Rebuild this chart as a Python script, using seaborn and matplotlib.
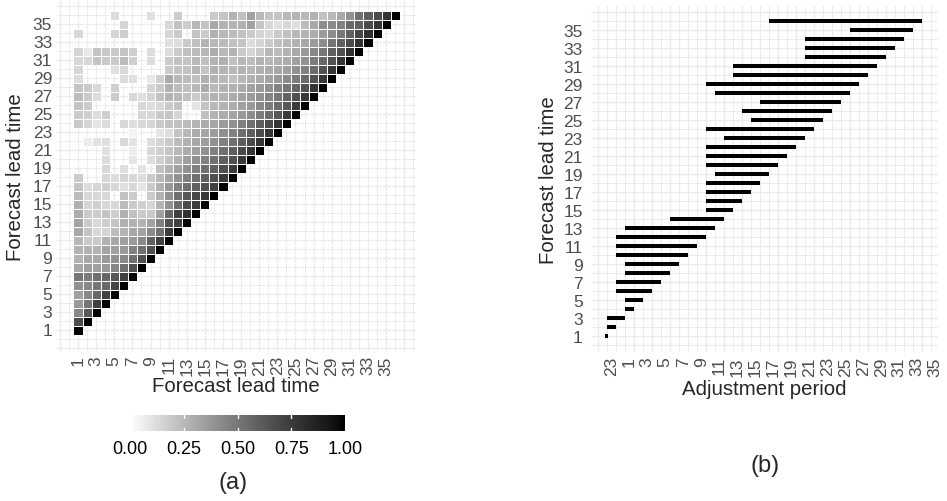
import numpy as np
import pandas as pd
import matplotlib
matplotlib.use("Agg")
import matplotlib.pyplot as plt
from matplotlib.colors import ListedColormap
import seaborn as sns

N = None

# ---------------- data: panel (a) ----------------
lead_times = list(range(1, 37))
# row L holds the values for (lead L, lead 1..L); None = no tile
corr_rows = [
    [1.0],
    [0.67, 1.0],
    [0.43, 0.63, 1.0],
    [0.37, 0.50, 0.73, 1.0],
    [0.34, 0.43, 0.56, 0.73, 1.0],
    [0.40, 0.43, 0.50, 0.56, 0.70, 1.0],
    [0.50, 0.48, 0.53, 0.56, 0.63, 0.73, 1.0],
    [0.31, 0.34, 0.34, 0.37, 0.43, 0.53, 0.66, 1.0],
    [0.27, 0.31, 0.31, 0.37, 0.40, 0.43, 0.53, 0.66, 1.0],
    [0.27, 0.27, 0.27, 0.33, 0.34, 0.37, 0.46, 0.53, 0.66, 1.0],
    [0.25, 0.19, 0.19, 0.28, 0.31, 0.34, 0.37, 0.42, 0.59, 0.73, 1.0],
    [0.31, 0.21, 0.14, 0.15, 0.24, 0.27, 0.31, 0.33, 0.42, 0.53, 0.75, 1.0],
    [0.33, 0.19, 0.14, 0.17, 0.21, 0.28, 0.28, 0.27, 0.33, 0.46, 0.66, 0.73, 1.0],
    [0.30, 0.19, 0.18, 0.21, 0.17, 0.28, 0.22, 0.19, 0.19, 0.34, 0.56, 0.73, 0.80, 1.0],
    [0.28, 0.15, 0.17, 0.14, 0.14, 0.24, 0.19, 0.17, 0.15, 0.27, 0.40, 0.55, 0.68, 0.75, 1.0],
    [0.24, 0.14, 0.14, 0.14, N, 0.22, 0.18, N, 0.18, 0.28, 0.40, 0.53, 0.63, 0.70, 0.77, 1.0],
    [0.21, 0.12, 0.15, 0.17, 0.14, 0.11, 0.14, 0.09, 0.19, 0.28, 0.37, 0.46, 0.53, 0.59, 0.66, 0.73, 1.0],
    [0.18, N, N, 0.14, 0.12, 0.15, 0.14, 0.12, 0.19, 0.25, 0.33, 0.40, 0.46, 0.53, 0.59, 0.66, 0.75, 1.0],
    [N, N, N, 0.14, N, 0.11, N, 0.10, N, 0.22, 0.28, 0.34, 0.40, 0.46, 0.53, 0.59, 0.66, 0.75, 1.0],
    [N, N, N, 0.12, N, N, 0.09, N, 0.12, 0.17, 0.22, 0.28, 0.34, 0.40, 0.46, 0.53, 0.59, 0.66, 0.75, 1.0],
    [N, N, N, 0.11, N, N, 0.07, N, 0.14, 0.17, 0.21, 0.25, 0.30, 0.34, 0.40, 0.46, 0.53, 0.60, 0.68, 0.77, 1.0],
    [N, 0.07, 0.10, 0.11, N, 0.14, 0.10, N, 0.12, 0.15, 0.19, 0.24, 0.28, 0.31, 0.36, 0.40, 0.46, 0.53, 0.60, 0.68, 0.77, 1.0],
    [N, N, N, N, N, N, 0.04, N, N, 0.09, 0.12, 0.21, 0.25, 0.30, 0.32, 0.36, 0.40, 0.46, 0.53, 0.60, 0.68, 0.78, 1.0],
    [0.19, 0.15, 0.09, 0.12, N, 0.14, 0.12, 0.14, 0.15, 0.19, 0.21, 0.22, 0.24, 0.27, 0.30, 0.32, 0.36, 0.40, 0.46, 0.53, 0.60, 0.68, 0.78, 1.0],
    [0.19, 0.17, 0.12, 0.17, N, N, N, 0.14, 0.14, 0.19, 0.21, 0.15, N, N, 0.22, 0.27, 0.30, 0.33, 0.37, 0.42, 0.48, 0.55, 0.63, 0.75, 1.0],
    [0.21, 0.18, N, N, N, N, N, 0.14, 0.12, 0.14, 0.19, 0.21, N, 0.09, 0.21, 0.25, 0.27, 0.30, 0.34, 0.37, 0.43, 0.48, 0.55, 0.63, 0.75, 1.0],
    [0.24, 0.19, 0.12, N, 0.18, N, 0.14, 0.11, 0.15, 0.22, 0.27, 0.25, 0.22, 0.19, 0.25, 0.28, 0.27, 0.30, 0.33, 0.36, 0.40, 0.45, 0.50, 0.58, 0.66, 0.77, 1.0],
    [0.21, 0.19, 0.14, N, 0.17, N, N, N, 0.15, 0.19, 0.28, 0.24, 0.22, 0.25, 0.30, 0.25, 0.27, 0.28, 0.30, 0.33, 0.36, 0.40, 0.45, 0.50, 0.57, 0.65, 0.77, 1.0],
    [0.12, N, N, N, N, 0.12, 0.11, N, 0.08, 0.17, 0.31, 0.25, 0.24, 0.22, 0.28, 0.27, 0.25, 0.22, 0.25, 0.28, 0.30, 0.33, 0.37, 0.42, 0.48, 0.55, 0.65, 0.77, 1.0],
    [0.14, N, N, N, 0.11, 0.14, N, N, N, N, 0.19, 0.21, 0.22, 0.25, 0.21, 0.28, 0.27, 0.25, 0.27, 0.25, 0.28, 0.30, 0.31, 0.34, 0.40, 0.46, 0.55, 0.65, 0.77, 1.0],
    [0.14, 0.14, 0.21, 0.19, 0.19, 0.24, 0.17, N, 0.12, N, 0.19, 0.22, 0.21, 0.25, 0.22, 0.27, 0.28, 0.22, 0.25, 0.24, 0.27, 0.25, 0.28, 0.30, 0.34, 0.40, 0.48, 0.56, 0.65, 0.78, 1.0],
    [0.15, 0.08, 0.21, 0.19, 0.19, 0.21, 0.17, N, 0.12, N, 0.12, 0.19, 0.22, 0.24, 0.25, 0.30, 0.25, 0.27, 0.19, 0.15, 0.19, 0.25, 0.24, 0.27, 0.31, 0.37, 0.43, 0.50, 0.59, 0.66, 0.80, 1.0],
    [N, N, N, N, N, N, N, N, N, N, 0.11, 0.12, 0.19, 0.22, 0.27, 0.25, 0.24, 0.22, 0.21, 0.12, 0.15, 0.19, 0.22, 0.25, 0.27, 0.31, 0.36, 0.42, 0.50, 0.59, 0.68, 0.80, 1.0],
    [0.14, N, N, N, 0.15, 0.17, N, N, N, N, 0.15, 0.19, N, 0.21, 0.19, 0.28, 0.25, 0.24, 0.22, 0.19, 0.15, 0.14, 0.19, 0.22, 0.25, 0.27, 0.30, 0.36, 0.42, 0.50, 0.59, 0.70, 0.80, 1.0],
    [N, N, N, N, N, 0.15, N, N, N, N, 0.14, 0.22, 0.18, 0.25, 0.21, 0.31, 0.27, 0.27, 0.28, 0.34, 0.21, 0.14, 0.11, 0.14, 0.11, 0.24, 0.31, 0.42, 0.42, 0.46, 0.56, 0.59, 0.68, 0.78, 1.0],
    [N, N, N, N, 0.12, N, N, N, 0.11, N, N, 0.18, N, N, N, 0.19, 0.21, 0.27, 0.22, 0.34, 0.25, 0.21, 0.21, 0.25, 0.27, 0.25, 0.28, 0.22, 0.25, 0.31, 0.40, 0.53, 0.60, 0.68, 0.78, 1.0],
]
a_tick_values = list(range(1, 36, 2))
a_tick_labels = [str(v) for v in a_tick_values]
cbar_ticks = [0.0, 0.25, 0.5, 0.75, 1.0]
cbar_labels = ["0.00", "0.25", "0.50", "0.75", "1.00"]

# ---------------- data: panel (b) ----------------
adj_lead = list(range(1, 37))
adj_start = [-1.5, -1.5, -1.5, 0.5, 0.5, -0.5, -0.5, 0.5, 0.5, -0.5,
             -0.5, -0.5, 0.5, 5.5, 9.5, 9.5, 9.5, 9.5, 10.5, 9.5,
             9.5, 9.5, 11.5, 9.5, 14.5, 13.5, 15.5, 10.5, 9.5, 12.5,
             12.5, 20.5, 20.5, 20.5, 25.5, 16.5]
adj_end = [-1.5, -0.5, 0.5, 1.5, 2.5, 3.5, 4.5, 5.5, 6.5, 7.5,
           8.5, 9.5, 10.5, 11.5, 12.5, 13.5, 14.5, 15.5, 16.5, 17.5,
           18.5, 19.5, 20.5, 21.5, 22.5, 23.5, 24.5, 25.5, 26.5, 27.5,
           28.5, 29.5, 30.5, 31.5, 32.5, 33.5]
b_xtick_values = [-1] + list(range(1, 36, 2))
b_xtick_labels = ["23"] + [str(v) for v in range(1, 36, 2)]
b_ytick_values = list(range(1, 36, 2))

# ---------------- style ----------------
W, H = 947, 502
sns.set_theme(style="white")
plt.rcParams['font.family'] = ['Liberation Sans', 'DejaVu Sans']
TICK_C = '#4d4d4d'
GRID_C = '#ebebeb'
TICK_FS = 12.5
TITLE_FS = 14.7


def lab_gray(v):
    L = 100.0 * (1.0 - v)
    fy = (L + 16.0) / 116.0
    Y = fy ** 3 if fy ** 3 > 0.008856 else L / 903.3
    g = 1.055 * Y ** (1 / 2.4) - 0.055 if Y > 0.0031308 else 12.92 * Y
    g = min(max(g, 0.0), 1.0)
    return (g, g, g)


cmap = ListedColormap([lab_gray(v) for v in np.linspace(0, 1, 256)])

fig = plt.figure(figsize=(W / 100, H / 100), dpi=100)
fig.patch.set_facecolor('white')


def rect(l, t, r, b):
    return [l / W, 1 - b / H, (r - l) / W, (b - t) / H]


# ---------------- panel (a) ----------------
axA = fig.add_axes(rect(57, 2, 416, 352))
mat = np.full((len(lead_times), len(lead_times)), np.nan)
for i, row in enumerate(corr_rows):
    for j, v in enumerate(row):
        if v is not None:
            mat[i, j] = v
df = pd.DataFrame(mat, index=lead_times, columns=lead_times)
sns.heatmap(df, ax=axA, cmap=cmap, vmin=0, vmax=1, cbar=False,
            linewidths=0.45, linecolor='white')
axA.set_xlim(-1.32 - 0.5, 38.3 - 0.5)
axA.set_ylim(-1.28 - 0.5, 37.61 - 0.5)
for k in range(-1, 40):
    lw = 1.0 if k % 2 else 0.7
    axA.axvline(k - 0.5, color=GRID_C, lw=lw, zorder=0)
    axA.axhline(k - 0.5, color=GRID_C, lw=lw, zorder=0)
axA.set_xticks([v - 0.5 for v in a_tick_values])
axA.set_xticklabels(a_tick_labels, rotation=90, fontsize=TICK_FS, color=TICK_C)
axA.set_yticks([v - 0.5 for v in a_tick_values])
axA.set_yticklabels(a_tick_labels, rotation=0, fontsize=TICK_FS, color=TICK_C)
axA.tick_params(axis='x', length=0, pad=3)
axA.tick_params(axis='y', length=0, pad=3.5)
axA.set_xlabel('')
axA.set_ylabel('')
for s in axA.spines.values():
    s.set_visible(False)

# colour bar
cax = fig.add_axes(rect(130, 416, 345, 432))
cb = fig.colorbar(axA.collections[0], cax=cax, orientation='horizontal')
cb.outline.set_visible(False)
cb.set_ticks(cbar_ticks)
cb.set_ticklabels(cbar_labels)
cax.tick_params(length=0, pad=6.5, labelsize=13, labelcolor='black')
for t in cbar_ticks[1:-1]:
    cax.plot([t, t], [0, 0.2], color='white', lw=1.0)
    cax.plot([t, t], [0.8, 1.0], color='white', lw=1.0)
cax.set_xlim(0, 1)
cax.set_ylim(0, 1)

# ---------------- panel (b) ----------------
axB = fig.add_axes(rect(591, 6.5, 937.5, 353))
axB.set_facecolor('white')
axB.set_xlim(-3.25, 35.25)
axB.set_ylim(-0.75, 37.75)
for k in range(-4, 36):
    axB.axvline(k + 0.5, color=GRID_C, lw=1.0 if k % 2 else 0.7, zorder=0)
for k in range(0, 38):
    axB.axhline(k, color=GRID_C, lw=1.0 if k % 2 else 0.7, zorder=0)
starts = np.array(adj_start, dtype=float)
ends = np.array(adj_end, dtype=float)
mid = (starts + ends) / 2
half = np.maximum(ends - starts, 0.36) / 2
lc = axB.hlines(adj_lead, mid - half, mid + half, colors='black',
                linewidth=2.9, zorder=3)
lc.set_capstyle('butt')
axB.set_xticks(b_xtick_values)
axB.set_xticklabels(b_xtick_labels, rotation=90, fontsize=TICK_FS, color=TICK_C)
axB.set_yticks(b_ytick_values)
axB.set_yticklabels([str(v) for v in b_ytick_values], fontsize=TICK_FS, color=TICK_C)
axB.tick_params(axis='x', length=0, pad=3)
axB.tick_params(axis='y', length=0, pad=6)
for s in axB.spines.values():
    s.set_visible(False)
axB.grid(False)

# ---------------- titles ----------------
def ftext(x, y, s, **kw):
    fig.text(x / W, 1 - y / H, s, ha='center', va='center', **kw)


ftext(16, 177, 'Forecast lead time', rotation=90, fontsize=TITLE_FS)
ftext(236, 387, 'Forecast lead time', fontsize=TITLE_FS)
ftext(549, 180, 'Forecast lead time', rotation=90, fontsize=TITLE_FS)
ftext(764, 390, 'Adjustment period', fontsize=TITLE_FS)
ftext(233, 483, '(a)', fontsize=17)
ftext(765, 466, '(b)', fontsize=17)

fig.savefig('out.png', dpi=100, facecolor='white')
